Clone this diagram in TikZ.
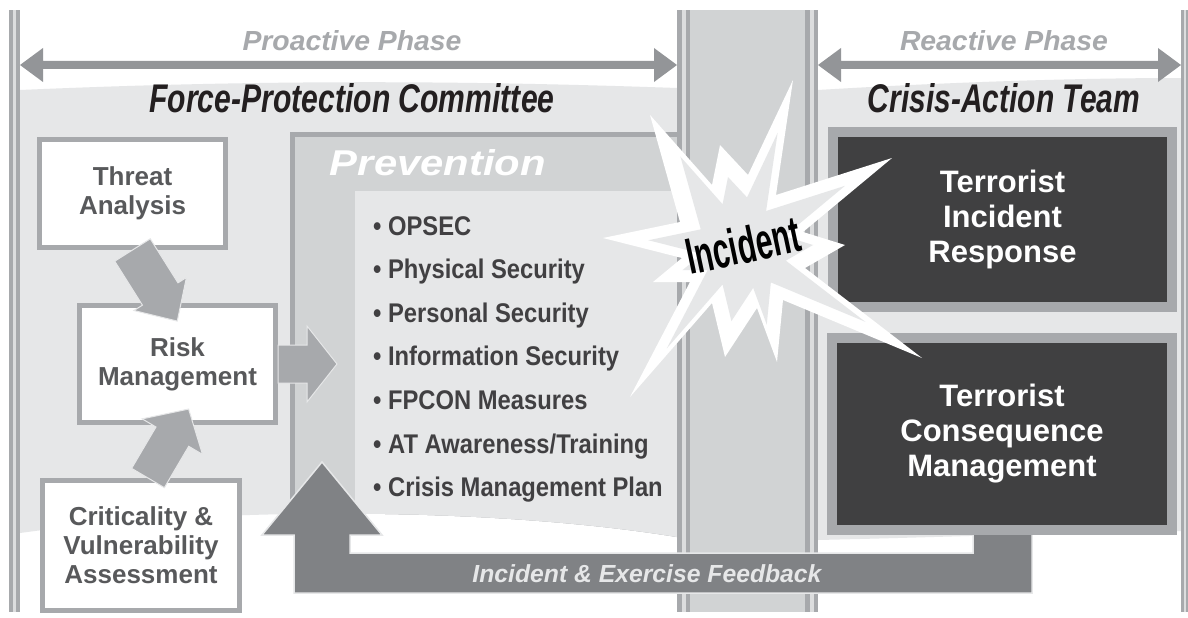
\documentclass[tikz,border=0pt]{standalone}
\usepackage{fontspec}
\usepackage{graphicx}
\setmainfont{Liberation Sans}
\newfontfamily\listf[FakeStretch=0.88]{Liberation Sans}
\newfontfamily\incf[FakeStretch=0.59]{Liberation Sans}
\definecolor{band}{HTML}{E6E7E8}
\definecolor{gA}{HTML}{A7A9AC}
\definecolor{gB}{HTML}{D1D3D4}
\definecolor{stripe}{HTML}{DCDDDE}
\definecolor{phasearr}{HTML}{939598}
\definecolor{phasetxt}{HTML}{A7A9AC}
\definecolor{titletxt}{HTML}{231F20}
\definecolor{boxtxt}{HTML}{58595B}
\definecolor{listtxt}{HTML}{414042}
\definecolor{darkbox}{HTML}{404041}
\definecolor{fbarrow}{HTML}{808285}
\begin{document}
\begin{tikzpicture}[x=1pt,y=-1pt,
  lbox/.style={draw=gA, line width=5pt, fill=white, text=boxtxt,
    font=\fontsize{26}{29}\selectfont\bfseries, align=center, inner sep=0pt},
  rbox/.style={draw=gA, line width=10pt, fill=darkbox, text=white,
    font=\fontsize{31}{35}\selectfont\bfseries, align=center, inner sep=0pt},
  litem/.style={anchor=base west, inner sep=0pt, text=listtxt,
    font=\listf\fontsize{27}{30}\selectfont\bfseries},
  blk/.style={fill=gA, draw=band, line width=1pt},
  bar/.style={fill=gA},
  barstripe/.style={fill=stripe},
  titletext/.style={inner sep=0pt, text=titletxt},
  phasetext/.style={inner sep=0pt, text=phasetxt}]
\useasboundingbox (0,0) rectangle (1188,618);
\fill[white] (0,0) rectangle (1188,618);

% light bands
\fill[band] (20,90) .. controls (250,80) and (450,80) .. (677,88) -- (677,537)
  .. controls (480,505) and (200,508) .. (20,533) -- cycle;
\fill[band] (818,90) .. controls (950,82) and (1080,78) .. (1181,78) -- (1181,531)
  .. controls (1050,533) and (950,537) .. (818,540) -- cycle;

% prevention frame, clipped by band
\begin{scope}
\clip (20,90) .. controls (250,80) and (450,80) .. (677,88) -- (677,537)
  .. controls (480,505) and (200,508) .. (20,533) -- cycle;
\fill[gA] (290,132) rectangle (677,600);
\fill[gB] (295,137) rectangle (677,600);
\fill[band] (355,191) rectangle (677,600);
\end{scope}

% column and bars
\fill[gB] (677,10) rectangle (818,612);
\fill[bar] (677,10) rectangle (690,612);
\fill[barstripe] (681.5,10) rectangle (685.5,612);
\fill[bar] (805,10) rectangle (818,612);
\fill[barstripe] (809.5,10) rectangle (813.5,612);
\fill[bar] (9,10) rectangle (20,612);
\fill[barstripe] (13,10) rectangle (16,612);
\fill[bar] (1181,10) rectangle (1188,612);
\fill[barstripe] (1183.5,10) rectangle (1185.5,612);

% phase arrows
\fill[phasearr] (20,65) -- (43,48) -- (43,61) -- (654,61) -- (654,48) -- (677,65)
  -- (654,82) -- (654,69) -- (43,69) -- (43,82) -- cycle;
\fill[phasearr] (818,65) -- (841,48) -- (841,61) -- (1158,61) -- (1158,48) -- (1181,65)
  -- (1158,82) -- (1158,69) -- (841,69) -- (841,82) -- cycle;

% titles
\node[phasetext] (proactive) at (352,41) {\resizebox{219pt}{20pt}{\bfseries\itshape Proactive Phase}};
\node[phasetext] (reactive) at (1004,41) {\resizebox{208pt}{20pt}{\bfseries\itshape Reactive Phase}};
\node[titletext] (fpc) at (352,98) {\resizebox{405pt}{29pt}{\bfseries\itshape Force-Protection Committee}};
\node[titletext] (cat) at (1004,98) {\resizebox{272pt}{29pt}{\bfseries\itshape Crisis-Action Team}};
\node[inner sep=0pt, text=white] (prevention) at (438,163) {\resizebox{216pt}{26pt}{\bfseries\itshape Prevention}};

% left boxes
\node[lbox, minimum width=186pt, minimum height=108pt] (threat) at (132.5,193.5) {Threat\\Analysis};
\node[lbox, minimum width=196pt, minimum height=117pt] (risk) at (177.5,364) {Risk\\Management};
\node[lbox, minimum width=197pt, minimum height=130pt] (crit) at (141,545.5) {Criticality \&\\Vulnerability\\Assessment};

% block arrows
\begin{scope}[shift={(threat.south)}, rotate=-57.8]
\path[blk] (0,-21) -- (52,-21) -- (52,-31) -- (84,0) -- (52,31) -- (52,21) -- (0,21) -- cycle;
\end{scope}
\begin{scope}[shift={([xshift=7pt]crit.north)}, rotate=59.5]
\path[blk] (0,-19) -- (48,-19) -- (48,-35) -- (80,0) -- (48,35) -- (48,19) -- (0,19) -- cycle;
\end{scope}
\begin{scope}[shift={(risk.east)}]
\path[blk] (0,-19) -- (29,-19) -- (29,-38) -- (59,0) -- (29,38) -- (29,19) -- (0,19) -- cycle;
\end{scope}

% list items
\node[litem] (l1) at (373,235) {• OPSEC};
\node[litem] (l2) at (373,278.6) {• Physical Security};
\node[litem] (l3) at (373,322.2) {• Personal Security};
\node[litem] (l4) at (373,365.8) {• Information Security};
\node[litem] (l5) at (373,409.4) {• FPCON Measures};
\node[litem] (l6) at (373,453) {• AT Awareness/Training};
\node[litem] (l7) at (373,496.6) {• Crisis Management Plan};

% feedback arrow
\path[fill=fbarrow, draw=band, line width=1.5pt] (1032,530) -- (1032,593) -- (294,593) -- (294,535)
  -- (262,535) -- (322,462) -- (382,535) -- (350,535) -- (350,553) -- (973,553) -- (973,530) -- cycle;
\node[inner sep=0pt, text=band] (feedback) at (647,574)
  {\resizebox{349pt}{!}{\fontsize{22}{26}\selectfont\bfseries\itshape Incident \& Exercise Feedback}};

% right boxes
\node[rbox, minimum width=339pt, minimum height=175pt] (tir) at (1002.5,219.5) {Terrorist\\Incident\\Response};
\node[rbox, minimum width=340pt, minimum height=192pt] (tcm) at (1002,434) {Terrorist\\Consequence\\Management};

% starburst
\fill[white] (603,238) -- (680,222) -- (650,115) -- (712,185) -- (720,145) -- (748,175)
  -- (793,80) -- (776,195) -- (892,158) -- (803,232) -- (845,245) -- (805,268)
  -- (922,358) -- (783,300) -- (777,362) -- (757,308) -- (725,357) -- (712,303)
  -- (630,397) -- (690,282) -- (653,282) -- (682,258) -- cycle;
\begin{scope}[shift={(745,245)}, scale=0.68, shift={(-745,-245)}]
\fill[band] (603,238) -- (680,222) -- (650,115) -- (712,185) -- (720,145) -- (748,175)
  -- (793,80) -- (776,195) -- (892,158) -- (803,232) -- (845,245) -- (805,268)
  -- (922,358) -- (783,300) -- (777,362) -- (757,308) -- (725,357) -- (712,303)
  -- (630,397) -- (690,282) -- (653,282) -- (682,258) -- cycle;
\end{scope}
\node[inner sep=0pt, rotate=12, text=black, font=\incf\fontsize{51}{51}\selectfont\bfseries] (incident) at (743,245) {Incident};
\end{tikzpicture}
\end{document}
